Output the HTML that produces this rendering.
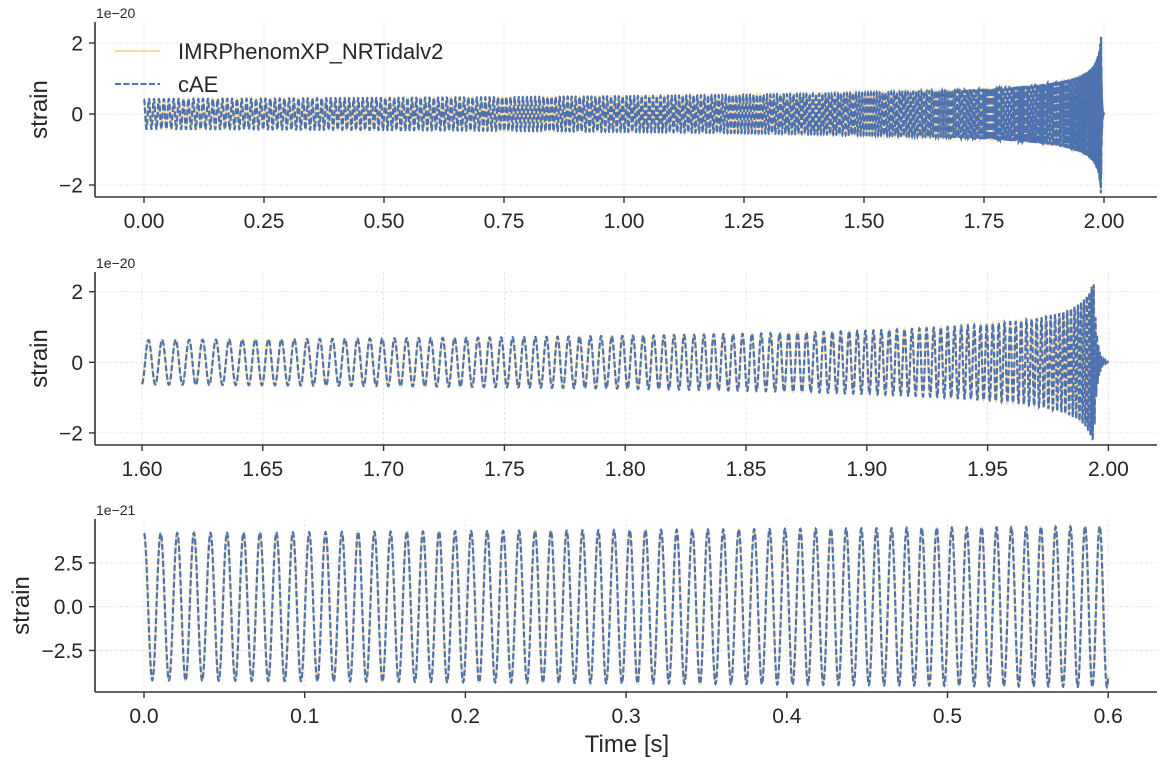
<!DOCTYPE html>
<html><head><meta charset="utf-8"><style>
body{margin:0;background:#fff}
svg{display:block;font-family:"Liberation Sans","DejaVu Sans",sans-serif}
</style></head><body>
<svg id="s" width="1165" height="765" viewBox="0 0 1165 765" xmlns="http://www.w3.org/2000/svg"></svg>
<script>
const S=document.getElementById('s');let h='';
const tc=1.996;
function f(t){const tau=Math.max(tc-t,0.0009);return 96*Math.pow(tc/tau,3/8);}
function ph(t){const tau=Math.max(tc-t,0.0009);let p=2*Math.PI*96*Math.pow(tc,3/8)*1.6*(Math.pow(tc,5/8)-Math.pow(tau,5/8));if(t>tc-0.0009)p+=2*Math.PI*f(t)*(t-(tc-0.0009));return p+Math.PI*t/1.6;}
function A(t){const tau=Math.max(tc-t,0.0012);let a=0.42*Math.pow(tc/tau,0.25);if(a>2.25)a=2.25;if(t>1.994)a*=Math.exp(-(t-1.994)/0.0012);return a;}
function h1(t,d){return A(t)*Math.cos(ph(t)+d);}
const panels=[
 {L:95,R:1157,T:22,B:197,x0:144,xs:480,y0:114,ys:35.5,t0:0,t1:2.0,off:0,xt:[0,0.25,0.5,0.75,1,1.25,1.5,1.75,2],xf:2,yt:[2,0,-2],yf:0,exp:'1e−20',sc:1,n:16000,lx:38},
 {L:95,R:1157,T:272,B:445,x0:142,xs:2416,y0:362.3,ys:35.3,t0:1.6,t1:2.0,off:1.6,xt:[1.6,1.65,1.7,1.75,1.8,1.85,1.9,1.95,2.0],xf:2,yt:[2,0,-2],yf:0,exp:'1e−20',sc:1,n:6000,lx:38},
 {L:95,R:1157,T:519,B:692,x0:144,xs:1607,y0:606.7,ys:17.5,t0:0,t1:0.6,off:0,xt:[0,0.1,0.2,0.3,0.4,0.5,0.6],xf:1,yt:[2.5,0,-2.5],yf:1,exp:'1e−21',sc:10,n:4000,lx:20}
];
panels.forEach((p,i)=>{
 const X=v=>p.x0+(v-p.off)*p.xs;
 p.xt.forEach(v=>{h+=`<line x1="${X(v)}" x2="${X(v)}" y1="${p.T}" y2="${p.B}" stroke="#e3e3e3" stroke-width="0.8" stroke-dasharray="3,2"/>`;});
 p.yt.forEach(v=>{const y=p.y0-v*p.ys;h+=`<line x1="${p.L}" x2="${p.R}" y1="${y}" y2="${y}" stroke="#e3e3e3" stroke-width="0.8" stroke-dasharray="3,2"/>`;});
 let a='',b='';
 for(let k=0;k<=p.n;k++){const t=p.t0+(p.t1-p.t0)*k/p.n;const x=X(t).toFixed(2);
  const ya=(p.y0-h1(t,0.03)*p.sc*p.ys).toFixed(2);const yb=(p.y0-h1(t,0)*p.sc*p.ys).toFixed(2);
  a+=(k?'L':'M')+x+' '+ya;b+=(k?'L':'M')+x+' '+yb;}
 h+=`<path d="${a}" fill="none" stroke="#f5d9a8" stroke-width="2.2"/>`;
 h+=`<path d="${b}" fill="none" stroke="#4c72b0" stroke-width="2.2" stroke-dasharray="6,2.5"/>`;
 h+=`<line x1="${p.L}" x2="${p.L}" y1="${p.T}" y2="${p.B}" stroke="#333" stroke-width="1.6"/>`;
 h+=`<line x1="${p.L}" x2="${p.R}" y1="${p.B}" y2="${p.B}" stroke="#333" stroke-width="1.6"/>`;
 p.xt.forEach(v=>{const x=X(v);h+=`<line x1="${x}" x2="${x}" y1="${p.B}" y2="${p.B+6}" stroke="#333" stroke-width="1.4"/><text x="${x}" y="${p.B+31}" font-size="21" fill="#262626" text-anchor="middle">${v.toFixed(p.xf)}</text>`;});
 p.yt.forEach(v=>{const y=p.y0-v*p.ys;const s=(v<0?'−':'')+Math.abs(v).toFixed(p.yf);h+=`<line x1="${p.L-6}" x2="${p.L}" y1="${y}" y2="${y}" stroke="#333" stroke-width="1.4"/><text x="${p.L-12}" y="${y+7.5}" font-size="21" fill="#262626" text-anchor="end">${s}</text>`;});
 h+=`<text x="${p.L+1}" y="${p.T-4}" font-size="14" fill="#262626">${p.exp}</text>`;
 const cy=(p.T+p.B)/2;
 h+=`<text transform="translate(${p.lx+9},${cy}) rotate(-90)" font-size="24" fill="#262626" text-anchor="middle">strain</text>`;
});
h+=`<text x="627" y="752" font-size="24" fill="#262626" text-anchor="middle">Time [s]</text>`;
h+=`<line x1="115" x2="160" y1="51" y2="51" stroke="#f5d9a8" stroke-width="2"/><text x="178" y="59" font-size="22" fill="#262626">IMRPhenomXP_NRTidalv2</text>`;
h+=`<line x1="115" x2="160" y1="84" y2="84" stroke="#4c72b0" stroke-width="2" stroke-dasharray="6,2.5"/><text x="178" y="92" font-size="22" fill="#262626">cAE</text>`;
S.innerHTML=h;
</script>
</body></html>
